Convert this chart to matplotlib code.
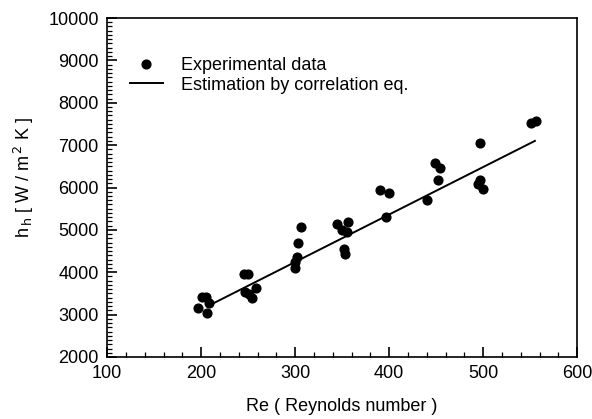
import matplotlib.pyplot as plt
from matplotlib.ticker import MultipleLocator

plt.rcParams['font.family'] = ['Liberation Sans', 'DejaVu Sans']

# measured heat transfer coefficient vs Reynolds number
re_exp = [197, 201, 205, 208, 206,
          246, 250, 247, 258, 254, 251,
          300, 300, 302, 303, 306,
          345, 356, 350, 355, 352, 353,
          390, 400, 397, 440,
          449, 454, 452,
          497, 497, 495, 500,
          551, 556]
h_exp = [3150, 3420, 3420, 3270, 3030,
         3950, 3950, 3540, 3620, 3390, 3480,
         4090, 4250, 4350, 4680, 5060,
         5150, 5190, 5000, 4960, 4560, 4430,
         5940, 5880, 5310, 5700,
         6570, 6470, 6180,
         7060, 6180, 6080, 5960,
         7520, 7580]

# correlation equation
re_fit = [207, 555]
h_fit = [3200, 7100]

fs = 13

fig = plt.figure(figsize=(5.92, 4.19), dpi=100)
ax = fig.add_axes([0.181, 0.148, 0.794, 0.809])

ax.plot(re_exp, h_exp, 'o', color='black', markersize=6.3, label='Experimental data')
ax.plot(re_fit, h_fit, '-', color='black', linewidth=1.4,
        label='Estimation by correlation eq.')

ax.set_xlim(100, 600)
ax.set_ylim(2000, 10000)
ax.xaxis.set_major_locator(MultipleLocator(100))
ax.xaxis.set_minor_locator(MultipleLocator(20))
ax.yaxis.set_major_locator(MultipleLocator(1000))
ax.yaxis.set_minor_locator(MultipleLocator(100))
ax.tick_params(which='both', direction='in', top=False, right=False,
               labelsize=fs, width=1.2, pad=6)
ax.tick_params(which='major', length=7)
ax.tick_params(which='minor', length=3.5, width=0.9)
for s in ax.spines.values():
    s.set_linewidth(1.2)

ax.set_xlabel('Re ( Reynolds number )', fontsize=fs, labelpad=11)
ax.set_ylabel(r'h$_{\,\mathrm{h}}$ [ W / m$^{\,2}$ K ]', fontsize=fs, labelpad=9)
ax.yaxis.label.set_y(0.53)

ax.legend(loc='upper left', bbox_to_anchor=(0.049, 0.885), frameon=False,
          fontsize=fs, handlelength=1.8, handletextpad=1.0,
          labelspacing=0.15, borderaxespad=0, borderpad=0)

fig.savefig('out.png', dpi=100)
